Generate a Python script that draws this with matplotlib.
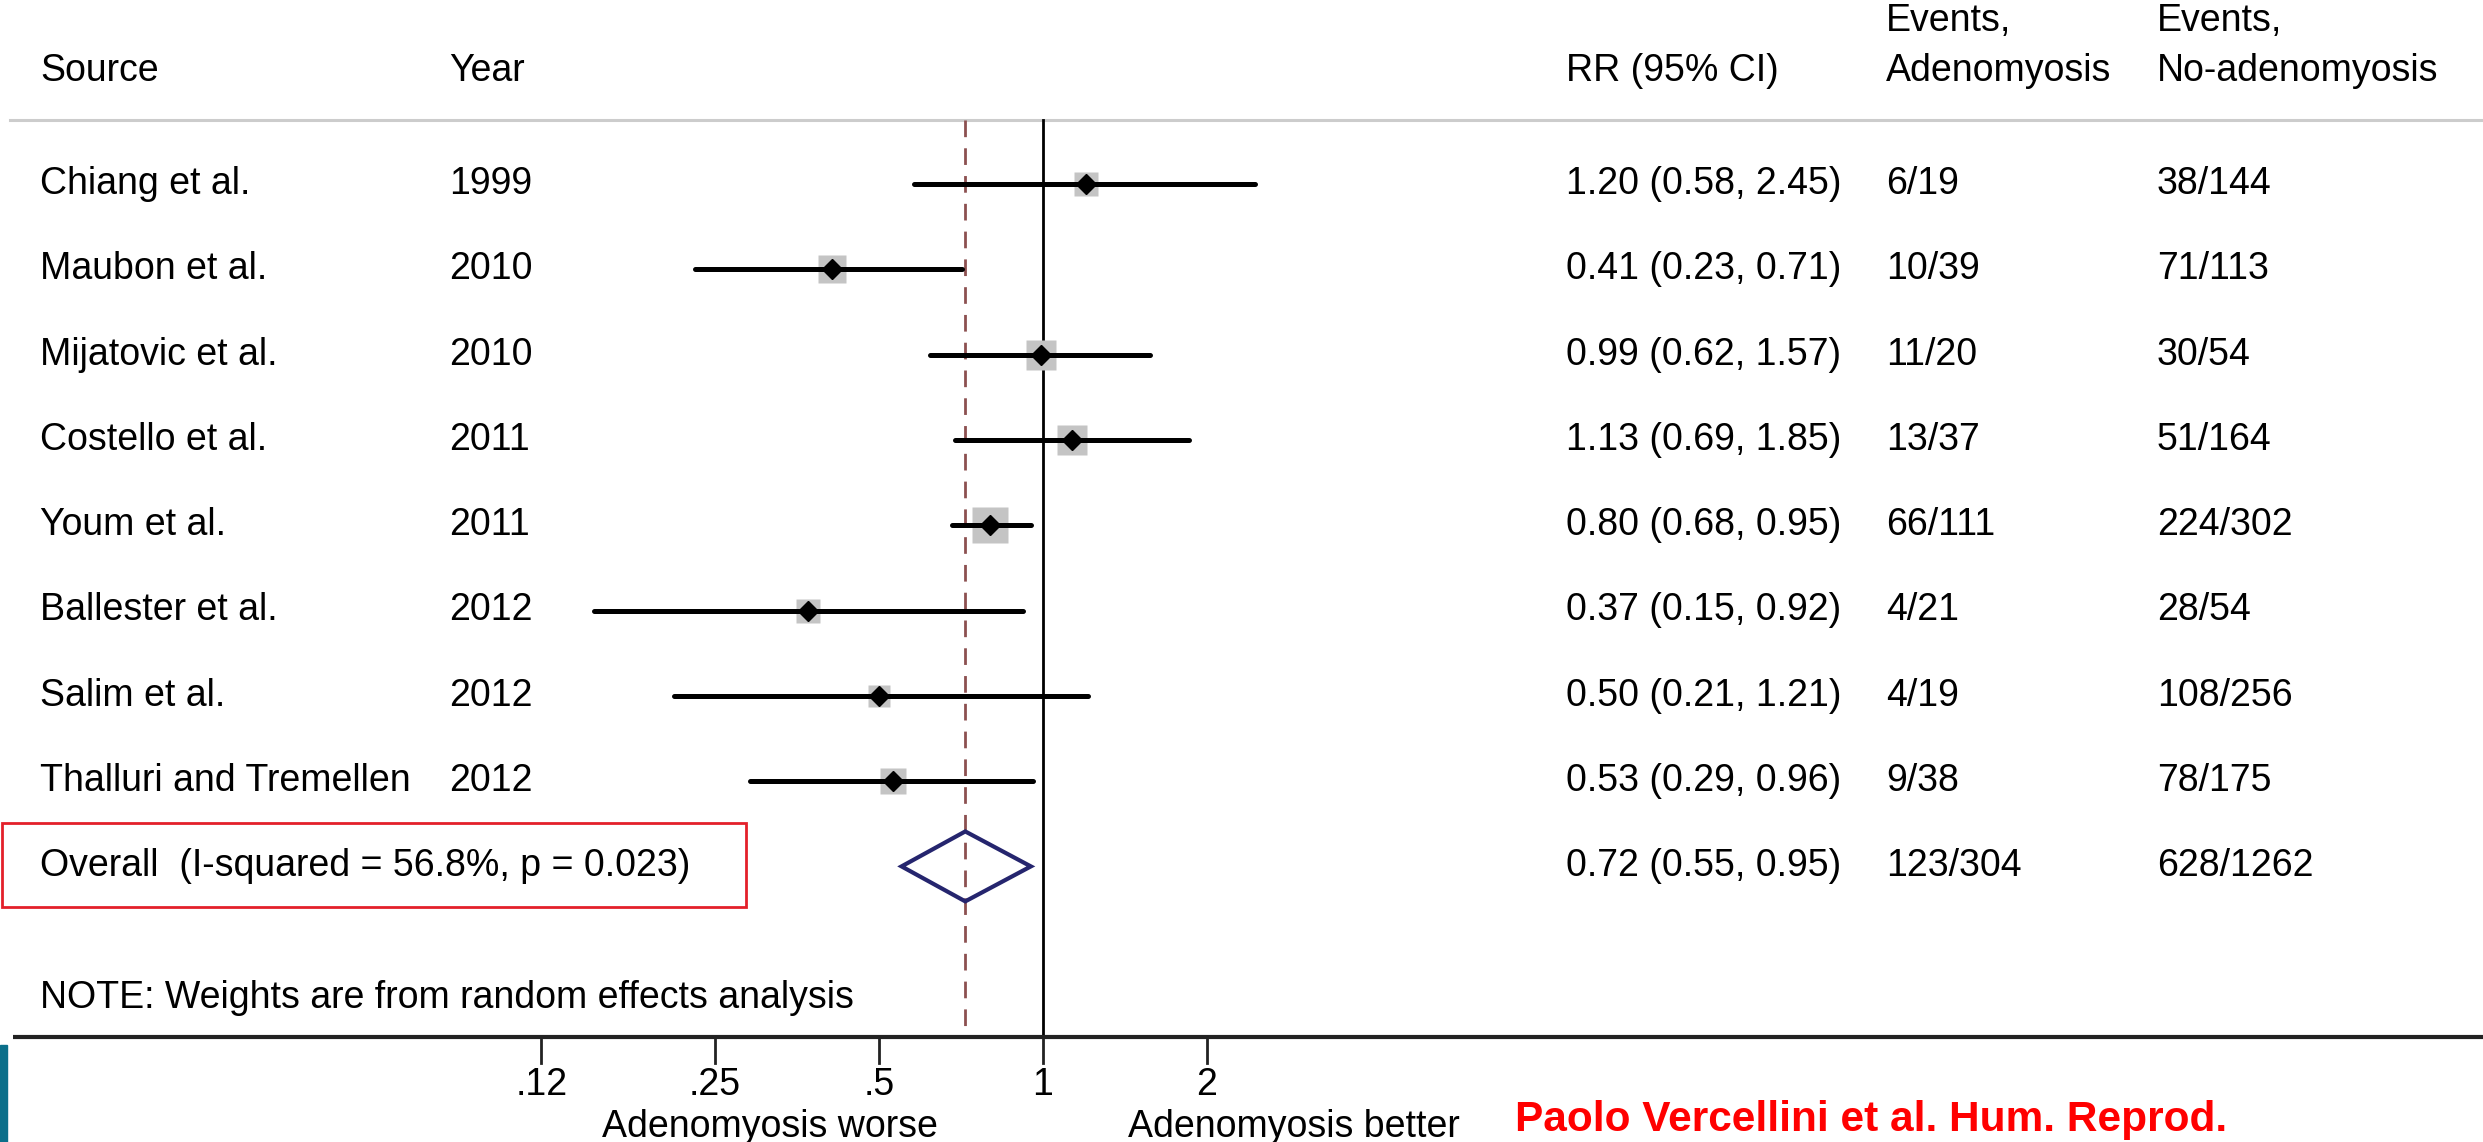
import matplotlib
matplotlib.use("Agg")
import matplotlib.pyplot as plt
from matplotlib import font_manager
from matplotlib.transforms import blended_transform_factory
from matplotlib.patches import Polygon, Rectangle

# study data
studies = ["Chiang et al.", "Maubon et al.", "Mijatovic et al.", "Costello et al.",
           "Youm et al.", "Ballester et al.", "Salim et al.", "Thalluri and Tremellen"]
years = ["1999", "2010", "2010", "2011", "2011", "2012", "2012", "2012"]
rr = [1.20, 0.41, 0.99, 1.13, 0.80, 0.37, 0.50, 0.53]
ci_lo = [0.58, 0.23, 0.62, 0.69, 0.68, 0.15, 0.21, 0.29]
ci_hi = [2.45, 0.71, 1.57, 1.85, 0.95, 0.92, 1.21, 0.96]
weights = [9.1, 13.3, 14.2, 15.2, 20.5, 8.4, 7.7, 11.5]
events_adeno = ["6/19", "10/39", "11/20", "13/37", "66/111", "4/21", "4/19", "9/38"]
events_none = ["38/144", "71/113", "30/54", "51/164", "224/302", "28/54", "108/256", "78/175"]

overall_rr, overall_lo, overall_hi = 0.72, 0.55, 0.95
overall_label = "Overall  (I-squared = 56.8%, p = 0.023)"
overall_adeno, overall_none = "123/304", "628/1262"

ticks = [0.12, 0.25, 0.5, 1, 2]
tick_labels = [".12", ".25", ".5", "1", "2"]

plt.rcParams['font.family'] = ['Liberation Sans', 'DejaVu Sans']
FS = 27

W, H = 2483, 1142
fig = plt.figure(figsize=(W / 100, H / 100), dpi=100)
ax = fig.add_axes([0, 0, 1, 1])
ax.set_xscale('log', base=2)
# 1 at x=1043 px, 164 px per doubling
px1, per = 1043, 164
ax.set_xlim(2 ** (-px1 / per), 2 ** ((W - px1) / per))
# rows: row 0 at y=184 px, 85.3 px per row
row0, step = 184, 85.3
ax.set_ylim((H - row0) / step, -row0 / step)
ax.axis('off')

tr = blended_transform_factory(fig.transFigure, ax.transData)
col_src, col_year, col_rr, col_ea, col_en = 40 / W, 449 / W, 1566 / W, 1886 / W, 2157 / W

# header
hdr_y, hdr_y0 = -1.32, -1.91
ax.text(col_src, hdr_y, "Source", transform=tr, fontsize=FS, va='center')
ax.text(col_year, hdr_y, "Year", transform=tr, fontsize=FS, va='center')
ax.text(col_rr, hdr_y, "RR (95% CI)", transform=tr, fontsize=FS, va='center')
ax.text(col_ea, hdr_y0, "Events,", transform=tr, fontsize=FS, va='center')
ax.text(col_ea, hdr_y, "Adenomyosis", transform=tr, fontsize=FS, va='center')
ax.text(col_en, hdr_y0, "Events,", transform=tr, fontsize=FS, va='center')
ax.text(col_en, hdr_y, "No-adenomyosis", transform=tr, fontsize=FS, va='center')
ax.plot([10 / W, 1], [-0.75, -0.75], transform=tr, color='#cccccc', lw=2.2)

# reference lines
ax.plot([1, 1], [-0.75, 10], color='black', lw=2.0, zorder=2)
ax.plot([overall_rr, overall_rr], [-0.75, 10], color='#8c5050', lw=2.0,
        dashes=(6, 4), zorder=2)

# studies
for i in range(len(studies)):
    ax.text(col_src, i, studies[i], transform=tr, fontsize=FS, va='center')
    ax.text(col_year, i, years[i], transform=tr, fontsize=FS, va='center')
    ax.text(col_rr, i, f"{rr[i]:.2f} ({ci_lo[i]:.2f}, {ci_hi[i]:.2f})",
            transform=tr, fontsize=FS, va='center')
    ax.text(col_ea, i, events_adeno[i], transform=tr, fontsize=FS, va='center')
    ax.text(col_en, i, events_none[i], transform=tr, fontsize=FS, va='center')
    side = 7.95 * weights[i] ** 0.5 * 0.72
    ax.plot(rr[i], i, marker='s', ms=side, color='#c4c4c4', mec='none', zorder=3)
    ax.plot([ci_lo[i], ci_hi[i]], [i, i], color='black', lw=3.6,
            solid_capstyle='round', zorder=4)
    ax.plot(rr[i], i, marker='D', ms=10, color='black', zorder=5)

# overall
n = len(studies)
ax.text(col_src, n, overall_label, transform=tr, fontsize=FS, va='center')
ax.text(col_rr, n, f"{overall_rr:.2f} ({overall_lo:.2f}, {overall_hi:.2f})",
        transform=tr, fontsize=FS, va='center')
ax.text(col_ea, n, overall_adeno, transform=tr, fontsize=FS, va='center')
ax.text(col_en, n, overall_none, transform=tr, fontsize=FS, va='center')
dh = 0.41
ax.add_patch(Polygon([(overall_lo, n), (overall_rr, n - dh), (overall_hi, n),
                      (overall_rr, n + dh)], closed=True, fill=False,
                     ec='#25256e', lw=3.0, zorder=6))
ax.add_patch(Rectangle((0.001, n - 0.51), 744 / W, 0.99, transform=tr,
                       fill=False, ec='#e3202a', lw=2.0, zorder=7))

ax.text(col_src, 9.54, "NOTE: Weights are from random effects analysis",
        transform=tr, fontsize=FS, va='center')

# x axis
ax.plot([13 / W, 1], [10, 10], transform=tr, color='#222222', lw=3.0,
        solid_capstyle='butt')
for t, lab in zip(ticks, tick_labels):
    ax.plot([t, t], [10, 10.3], color='#222222', lw=2.0)
    ax.text(t, 10.56, lab, fontsize=FS, ha='center', va='center')
ax.text(0.316, 11.05, "Adenomyosis worse", fontsize=FS, ha='center', va='center')
ax.text(2.89, 11.05, "Adenomyosis better", fontsize=FS, ha='center', va='center')

# source credit, condensed bold if a narrow face exists
try:
    font_manager.findfont(font_manager.FontProperties(family='Liberation Sans Narrow',
                                                      weight='bold'),
                          fallback_to_default=False)
    credit_family, credit_fs = 'Liberation Sans Narrow', 36
except ValueError:
    credit_family, credit_fs = 'Liberation Sans', 30.5
ax.text(1515 / W, 11.10, "Paolo Vercellini et al. Hum. Reprod.", transform=tr,
        fontsize=credit_fs, fontweight='bold', color='#ff0000', va='baseline',
        family=credit_family)

# teal strip at lower left
ax.add_patch(Rectangle((0, 10.09), 7 / W, 1.2, transform=tr, color='#0b6f8a',
                       zorder=8, clip_on=False))

fig.savefig("out.png", dpi=100)
